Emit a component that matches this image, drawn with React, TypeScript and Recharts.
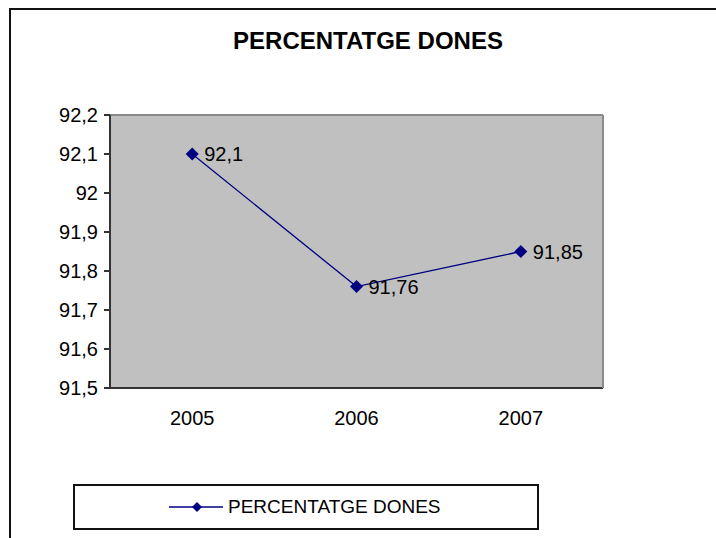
import React from "react";
import {
  LineChart,
  Line,
  XAxis,
  YAxis,
  CartesianGrid,
  LabelList,
  Legend,
} from "recharts";

const categories = ["2005", "2006", "2007"];
const seriesValues = [92.1, 91.76, 91.85];
const seriesName = "PERCENTATGE DONES";
const yTicks = [91.5, 91.6, 91.7, 91.8, 91.9, 92, 92.1, 92.2];
const boundaryTicks = [0, 1, 2, 3];

const data = categories.map((c, i) => ({ year: c, value: seriesValues[i] }));

const FONT = "'Liberation Sans', Arial, sans-serif";
const comma = (v: any) => String(v).replace(".", ",");

const Diamond = (props: any) => {
  const { cx, cy, index } = props;
  if (cx == null || cy == null) return null;
  const r = 6.5;
  return (
    <path
      key={`d-${index}`}
      d={`M${cx},${cy - r}L${cx + r},${cy}L${cx},${cy + r}L${cx - r},${cy}Z`}
      fill="#000080"
      stroke="none"
    />
  );
};

const LegendBox = (props: any) => {
  const { payload } = props;
  return (
    <div
      style={{
        boxSizing: "border-box",
        width: 466,
        height: 46,
        border: "2px solid #111",
        background: "#fff",
        position: "relative",
        fontFamily: FONT,
      }}
    >
      {(payload || []).map((p: any, i: number) => (
        <div
          key={i}
          style={{
            position: "absolute",
            left: 94,
            top: 8,
            display: "flex",
            alignItems: "center",
            height: 26,
          }}
        >
          <svg width={56} height={14}>
            <line x1={0} y1={7} x2={54} y2={7} stroke="#000080" strokeWidth={1.5} />
            <path d="M28,2L33,7L28,12L23,7Z" fill="#000080" />
          </svg>
          <span style={{ fontSize: 19, color: "#000", marginLeft: 3 }}>{p.value}</span>
        </div>
      ))}
    </div>
  );
};

export default function App() {
  return (
    <div
      style={{
        position: "absolute",
        left: 0,
        top: 0,
        width: 716,
        height: 538,
        overflow: "hidden",
        background: "#fff",
        fontFamily: FONT,
      }}
    >
      <div
        style={{
          position: "absolute",
          left: 9,
          top: 8,
          width: 800,
          height: 600,
          borderTop: "2px solid #111",
          borderLeft: "2px solid #111",
        }}
      />
      <div
        style={{
          position: "absolute",
          left: 368,
          top: 27,
          transform: "translateX(-50%)",
          fontSize: 24,
          fontWeight: "bold",
          whiteSpace: "nowrap",
          color: "#000",
        }}
      >
        PERCENTATGE DONES
      </div>
      <div style={{ position: "absolute", left: 0, top: 0 }}>
        <LineChart
          width={716}
          height={538}
          data={data}
          margin={{ top: 114, right: 112, bottom: 120, left: 50 }}
        >
          <CartesianGrid fill="#C0C0C0" horizontal={false} vertical={false} />
          <XAxis
            xAxisId="top"
            orientation="top"
            dataKey="year"
            height={1}
            tick={false}
            tickLine={false}
            axisLine={{ stroke: "#8a8a8a", strokeWidth: 2 }}
          />
          <XAxis
            xAxisId="bounds"
            type="number"
            domain={[0, 3]}
            ticks={boundaryTicks}
            allowDataOverflow
            height={1}
            tick={false}
            tickSize={7}
            tickLine={{ stroke: "#333", strokeWidth: 2 }}
            axisLine={{ stroke: "#333", strokeWidth: 2 }}
          />
          <XAxis
            xAxisId="cat"
            dataKey="year"
            scale="band"
            height={29}
            tickLine={false}
            tickSize={0}
            tickMargin={22}
            axisLine={false}
            tick={{ fill: "#000", fontSize: 20, fontFamily: FONT }}
          />
          <YAxis
            yAxisId="right"
            orientation="right"
            width={1}
            domain={[91.5, 92.2]}
            tick={false}
            tickLine={false}
            axisLine={{ stroke: "#8a8a8a", strokeWidth: 2 }}
          />
          <YAxis
            yAxisId="left"
            width={60}
            domain={[91.5, 92.2]}
            ticks={yTicks}
            tickFormatter={comma}
            tickSize={6}
            tickMargin={6}
            interval={0}
            tickLine={{ stroke: "#333", strokeWidth: 2 }}
            axisLine={{ stroke: "#333", strokeWidth: 2 }}
            tick={{ fill: "#000", fontSize: 20, fontFamily: FONT }}
          />
          <Line
            xAxisId="cat"
            yAxisId="left"
            name={seriesName}
            dataKey="value"
            stroke="#000080"
            strokeWidth={1.3}
            dot={Diamond}
            activeDot={false}
            isAnimationActive={false}
          >
            <LabelList
              dataKey="value"
              position="right"
              offset={12}
              formatter={comma}
              style={{ fill: "#000", fontSize: 20, fontFamily: FONT }}
            />
          </Line>
          <Legend
            layout="vertical"
            align="center"
            verticalAlign="middle"
            content={<LegendBox />}
            wrapperStyle={{ left: 73, top: 484, width: 466, height: 46 }}
          />
        </LineChart>
      </div>
    </div>
  );
}
